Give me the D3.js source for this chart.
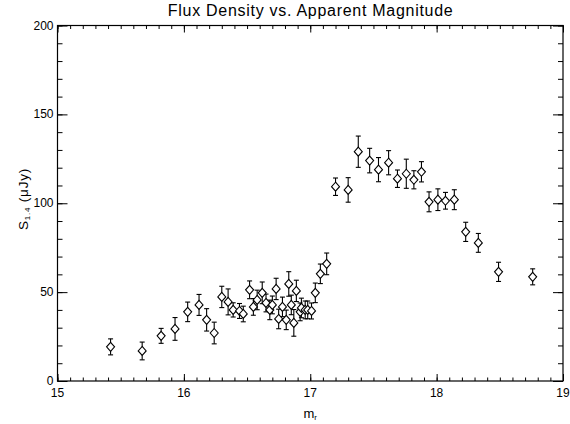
<!DOCTYPE html>
<html>
<head>
<meta charset="utf-8">
<script src="https://cdn.jsdelivr.net/npm/d3@7"></script>
<style>
  body { margin: 0; background: #fff; }
  svg text { font-family: "Liberation Sans", "DejaVu Sans", sans-serif; fill: #000; }
  .axis path { display: none; }
  .axis line { stroke: #000; stroke-width: 1; }
</style>
</head>
<body>
<svg id="chart" width="570" height="424"></svg>
<script>
(function(){
  // apparent magnitude (m_r)
  var mag = [15.42, 15.67, 15.82, 15.93, 16.03, 16.12, 16.18, 16.24, 16.30, 16.35,
             16.39, 16.44, 16.47, 16.52, 16.55, 16.58, 16.62, 16.65, 16.68, 16.70,
             16.73, 16.75, 16.78, 16.81, 16.83, 16.85, 16.87, 16.89, 16.92, 16.93,
             16.96, 16.98, 17.01, 17.04, 17.08, 17.13, 17.20, 17.30, 17.38, 17.47,
             17.54, 17.62, 17.69, 17.76, 17.82, 17.88, 17.94, 18.01, 18.07, 18.14,
             18.23, 18.33, 18.49, 18.76];
  // flux density S_1.4 (uJy)
  var flux = [19.2, 16.9, 25.4, 29.3, 38.9, 42.8, 34.4, 27.0, 47.3, 44.5,
              40.0, 39.4, 37.7, 51.3, 41.7, 45.6, 49.6, 43.9, 40.0, 42.8,
              51.8, 34.9, 41.7, 34.4, 54.6, 42.8, 32.7, 50.7, 38.9, 41.1,
              40.0, 40.0, 39.4, 49.6, 60.3, 65.9, 109.3, 107.5, 129.0, 124.0,
              118.9, 122.8, 113.8, 116.6, 113.2, 117.7, 100.8, 102.0, 101.4, 102.0,
              83.9, 77.7, 61.4, 58.6];
  // 1-sigma errors
  var err = [4.5, 5.0, 4.2, 6.4, 5.5, 5.9, 6.3, 6.1, 6.0, 7.3,
             4.0, 4.2, 4.4, 5.0, 4.7, 5.5, 6.1, 5.0, 5.5, 5.0,
             6.0, 5.5, 5.5, 5.5, 6.9, 5.5, 7.5, 6.0, 5.0, 5.5,
             5.0, 5.0, 4.5, 5.5, 5.5, 6.1, 4.9, 6.9, 8.8, 6.9,
             6.8, 6.8, 4.9, 8.2, 5.1, 5.7, 5.6, 6.1, 4.7, 5.6,
             5.4, 5.3, 5.4, 4.5];

  var xTicks = [15, 16, 17, 18, 19];
  var yTicks = [0, 50, 100, 150, 200];

  var svg = d3.select('#chart');
  var left = 57.5, right = 563, top = 25.5, bottom = 381;

  var x = d3.scaleLinear().domain([15, 19]).range([left, right]);
  var y = d3.scaleLinear().domain([0, 200]).range([bottom, top]);

  var pts = mag.map(function(m, i) { return {m: m, s: flux[i], e: err[i]}; });

  // Axes (ticks pointing inward on all four sides)
  var xMinor = d3.range(150, 191).map(function(d) { return d / 10; });
  var yMinor = d3.range(0, 201, 10);

  function addAxis(axis, tx, ty) {
    svg.append('g').attr('class', 'axis')
      .attr('transform', 'translate(' + tx + ',' + ty + ')')
      .call(axis);
  }
  addAxis(d3.axisBottom(x).tickValues(xMinor).tickSize(-3.5).tickFormat(''), 0, bottom);
  addAxis(d3.axisBottom(x).tickValues(xTicks).tickSize(-7).tickFormat(''), 0, bottom);
  addAxis(d3.axisTop(x).tickValues(xMinor).tickSize(-3.5).tickFormat(''), 0, top);
  addAxis(d3.axisTop(x).tickValues(xTicks).tickSize(-7).tickFormat(''), 0, top);
  addAxis(d3.axisLeft(y).tickValues(yMinor).tickSize(-5).tickFormat(''), left, 0);
  addAxis(d3.axisLeft(y).tickValues(yTicks).tickSize(-10).tickFormat(''), left, 0);
  addAxis(d3.axisRight(y).tickValues(yMinor).tickSize(-5).tickFormat(''), right, 0);
  addAxis(d3.axisRight(y).tickValues(yTicks).tickSize(-10).tickFormat(''), right, 0);

  svg.append('rect')
    .attr('x', left).attr('y', top)
    .attr('width', right - left).attr('height', bottom - top)
    .attr('fill', 'none').attr('stroke', '#000').attr('stroke-width', 1.2);

  // Tick labels
  svg.append('g').selectAll('text')
    .data(xTicks).enter().append('text')
    .attr('x', function(d) { return x(d); })
    .attr('y', 397)
    .attr('text-anchor', 'middle')
    .attr('font-size', 12)
    .text(function(d) { return d; });

  svg.append('g').selectAll('text')
    .data(yTicks).enter().append('text')
    .attr('x', left - 4)
    .attr('y', function(d) { return y(d) + 4; })
    .attr('text-anchor', 'end')
    .attr('font-size', 12)
    .text(function(d) { return d; });

  // Titles
  svg.append('text')
    .attr('x', (left + right) / 2).attr('y', 16)
    .attr('text-anchor', 'middle')
    .attr('font-size', 16)
    .attr('textLength', 285)
    .attr('lengthAdjust', 'spacing')
    .text('Flux Density vs. Apparent Magnitude');

  var xt = svg.append('text')
    .attr('x', (left + right) / 2).attr('y', 418)
    .attr('text-anchor', 'middle')
    .attr('font-size', 13);
  xt.append('tspan').text('m');
  xt.append('tspan').attr('font-size', 8).attr('dy', 2).text('r');

  var yt = svg.append('text')
    .attr('transform', 'translate(28,199) rotate(-90)')
    .attr('text-anchor', 'middle')
    .attr('font-size', 13.5)
    .attr('letter-spacing', 0.8);
  yt.append('tspan').text('S');
  yt.append('tspan').attr('font-size', 8).attr('dy', 2).text('1.4');
  yt.append('tspan').attr('dy', -2).text(' (\u03bcJy)');

  // Error bars
  var bars = svg.append('g').attr('stroke', '#000').attr('stroke-width', 1.1)
    .selectAll('g').data(pts).enter().append('g');
  bars.append('line')
    .attr('x1', function(d) { return x(d.m); }).attr('x2', function(d) { return x(d.m); })
    .attr('y1', function(d) { return y(d.s - d.e); }).attr('y2', function(d) { return y(d.s + d.e); });
  bars.append('line')
    .attr('x1', function(d) { return x(d.m) - 2.5; }).attr('x2', function(d) { return x(d.m) + 2.5; })
    .attr('y1', function(d) { return y(d.s - d.e); }).attr('y2', function(d) { return y(d.s - d.e); });
  bars.append('line')
    .attr('x1', function(d) { return x(d.m) - 2.5; }).attr('x2', function(d) { return x(d.m) + 2.5; })
    .attr('y1', function(d) { return y(d.s + d.e); }).attr('y2', function(d) { return y(d.s + d.e); });

  // Diamonds
  svg.append('g').selectAll('path')
    .data(pts).enter().append('path')
    .attr('d', 'M0,-4.5L4,0L0,4.5L-4,0Z')
    .attr('transform', function(d) { return 'translate(' + x(d.m) + ',' + y(d.s) + ')'; })
    .attr('fill', '#fff')
    .attr('stroke', '#000')
    .attr('stroke-width', 1.1);
})();
</script>
</body>
</html>
